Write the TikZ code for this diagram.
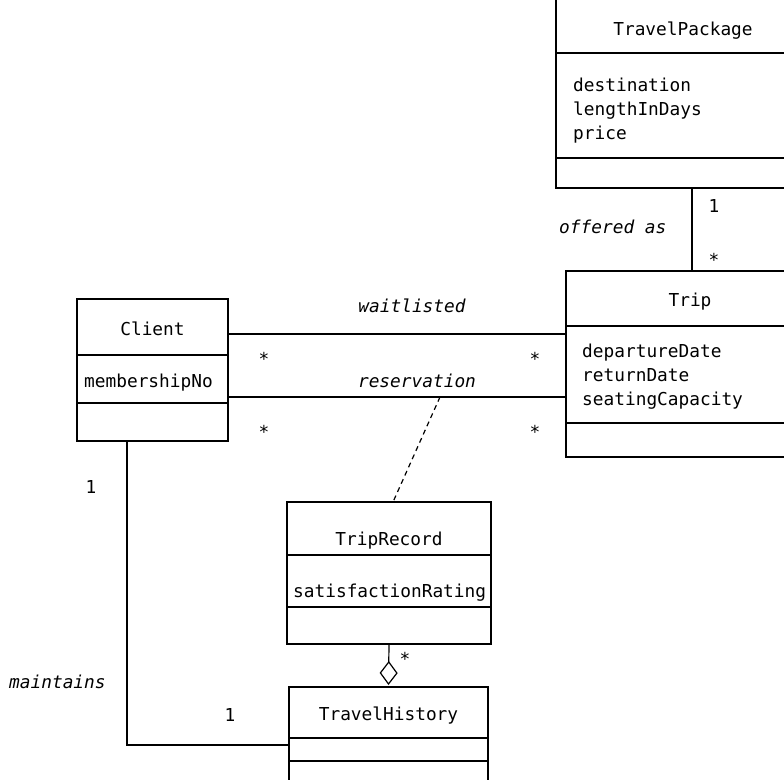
\documentclass[tikz,border=0pt]{standalone}
\usepackage{fontspec}
\setmonofont{DejaVu Sans Mono}
\usetikzlibrary{arrows.meta}
\tikzset{
  cls/.style={draw, line width=1.2pt, inner sep=0pt, outer sep=0pt, anchor=north west},
  sep/.style={line width=1.2pt},
  conn/.style={line width=1.2pt},
  txt/.style={inner sep=0pt, anchor=base, font=\ttfamily\fontsize{17.8}{24}\selectfont},
  attr/.style={txt, anchor=base west},
  lbl/.style={inner sep=0pt, anchor=base, font=\ttfamily\itshape\fontsize{17.8}{24}\selectfont},
}
\begin{document}
\begin{tikzpicture}[x=1pt,y=-1pt]
\path[use as bounding box] (0,0) rectangle (784,779);
\clip (0,0) rectangle (784,779);
\fill[white] (0,0) rectangle (784,779);

% classes
\node[cls, minimum width=151pt, minimum height=142pt] (client) at (77,299) {};
\node[cls, minimum width=254pt, minimum height=208pt] (tp) at (556,-20) {};
\node[cls, minimum width=248pt, minimum height=186pt] (trip) at (566,271) {};
\node[cls, minimum width=204pt, minimum height=142pt] (trec) at (287,502) {};
\node[cls, minimum width=199pt, minimum height=110pt] (thist) at (289,687) {};

% compartments
\draw[sep] (77,355) -- (228,355);
\draw[sep] (77,403) -- (228,403);
\draw[sep] (556,53) -- (810,53);
\draw[sep] (556,158) -- (810,158);
\draw[sep] (566,326) -- (814,326);
\draw[sep] (566,423) -- (814,423);
\draw[sep] (287,555) -- (491,555);
\draw[sep] (287,607) -- (491,607);
\draw[sep] (289,738) -- (488,738);
\draw[sep] (289,761) -- (488,761);

% texts in classes
\node[txt] (clientt) at (152.5,335) {Client};
\node[attr] (clienta) at (84,387) {membershipNo};
\node[txt] (tpt) at (683,35) {TravelPackage};
\node[attr] (tpa1) at (573,91) {destination};
\node[attr] (tpa2) at (573,115) {lengthInDays};
\node[attr] (tpa3) at (573,139) {price};
\node[txt] (tript) at (690,306) {Trip};
\node[attr] (tripa1) at (582,357) {departureDate};
\node[attr] (tripa2) at (582,381) {returnDate};
\node[attr] (tripa3) at (582,405) {seatingCapacity};
\node[txt] (trect) at (389,545) {TripRecord};
\node[attr] (treca) at (293,597) {satisfactionRating};
\node[txt] (thistt) at (388.5,720) {TravelHistory};

% helper coordinates
\coordinate (wl) at (0,334);
\coordinate (rs) at (0,397);
\coordinate (offx) at (692,0);
\coordinate (rsmid) at (440,397);

% connectors
\draw[conn] (client.east |- wl) -- (trip.west |- wl);
\draw[conn] (client.east |- rs) -- (trip.west |- rs);
\draw[conn] (tp.south -| offx) -- (trip.north -| offx);
\draw[conn, dash pattern=on 5pt off 4pt] (rsmid) -- ([xshift=106pt]trec.north west);
\draw[conn] ([xshift=50pt]client.south west) |- ([yshift=-58pt]thist.north west);
\draw[conn, -{Diamond[open, length=24pt, width=18pt, line width=1.2pt]}] (trec.south) -- ([yshift=2pt]thist.north);

% labels
\node[lbl] (lwl) at (412,312) {waitlisted};
\node[lbl] (lrs) at (417,387) {reservation};
\node[lbl, anchor=base west] (loff) at (559,233) {offered as};
\node[lbl, anchor=base west] (lmain) at (9,688) {maintains};

\node[txt] (m1) at (264,365) {*};
\node[txt] (m2) at (535,365) {*};
\node[txt] (m3) at (264,438) {*};
\node[txt] (m4) at (535,438) {*};
\node[txt] (m5) at (714,212) {1};
\node[txt] (m6) at (714,266) {*};
\node[txt] (m7) at (91,493) {1};
\node[txt] (m8) at (230,721) {1};
\node[txt] (m9) at (405,665) {*};
\end{tikzpicture}
\end{document}
